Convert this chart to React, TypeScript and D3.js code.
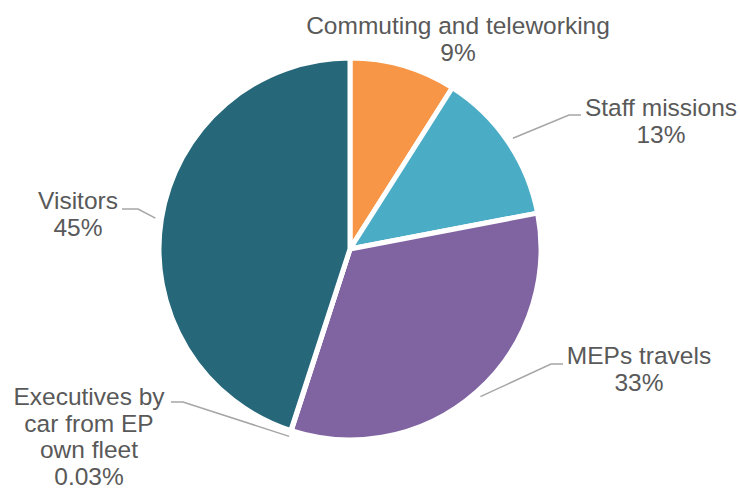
import React from "react";
import * as d3 from "d3";

const categories = [
  "Commuting and teleworking",
  "Staff missions",
  "MEPs travels",
  "Executives by car from EP own fleet",
  "Visitors",
];
const values = [9, 13, 33, 0.03, 45];
const valueLabels = ["9%", "13%", "33%", "0.03%", "45%"];
const labelLines = [
  ["Commuting and teleworking"],
  ["Staff missions"],
  ["MEPs travels"],
  ["Executives by", "car from EP", "own fleet"],
  ["Visitors"],
];
const colors = ["#F79646", "#4BACC6", "#8064A2", "#A5A5A5", "#26687A"];

// label layout: text centre x, first baseline y, leader elbow (null = no leader)
const labelLayout: { x: number; y: number; elbow: [number, number] | null; end: number }[] = [
  { x: 458, y: 34, elbow: null, end: 0 },
  { x: 661, y: 116, elbow: [569, 115], end: 581 },
  { x: 639, y: 364, elbow: [551, 364], end: 563 },
  { x: 89, y: 405, elbow: [183, 402], end: 171 },
  { x: 78, y: 209, elbow: [138, 209], end: 122 },
];

const W = 740;
const H = 490;
const cx = 350;
const cy = 249;
const R = 191;
const lineH = 26.5;

export default function App() {
  const pie = d3
    .pie<number>()
    .sort(null)
    .value((d) => d)
    .startAngle(0)
    .endAngle(2 * Math.PI);
  const arcs = pie(values);
  const arc = d3.arc<d3.PieArcDatum<number>>().innerRadius(0).outerRadius(R);

  return (
    <div style={{ position: "absolute", left: 0, top: 0 }}>
      <svg width={W} height={H} style={{ display: "block", background: "#fff" }}>
        <g transform={`translate(${cx},${cy})`}>
          {arcs.map((a, i) => (
            <path key={categories[i]} d={arc(a) || ""} fill={colors[i]} stroke="#fff" strokeWidth={5} strokeLinejoin="round" />
          ))}
        </g>
        {arcs.map((a, i) => {
          const L = labelLayout[i];
          if (!L.elbow) return null;
          const mid = (a.startAngle + a.endAngle) / 2;
          const r0 = R + 6;
          const sx = cx + r0 * Math.sin(mid);
          const sy = cy - r0 * Math.cos(mid);
          const pts = [
            [sx, sy],
            L.elbow,
            [L.end, L.elbow[1]],
          ];
          return (
            <polyline
              key={"l" + i}
              points={pts.map((p) => p.join(",")).join(" ")}
              fill="none"
              stroke="#A6A6A6"
              strokeWidth={1.5}
            />
          );
        })}
        {labelLayout.map((L, i) => {
          const lines = [...labelLines[i], valueLabels[i]];
          return (
            <text
              key={"t" + i}
              x={L.x}
              y={L.y}
              textAnchor="middle"
              fontFamily="'Liberation Sans', Arial, sans-serif"
              fontSize={24.5}
              fill="#595959"
            >
              {lines.map((ln, j) => (
                <tspan key={j} x={L.x} y={L.y + j * lineH}>
                  {ln}
                </tspan>
              ))}
            </text>
          );
        })}
      </svg>
    </div>
  );
}
